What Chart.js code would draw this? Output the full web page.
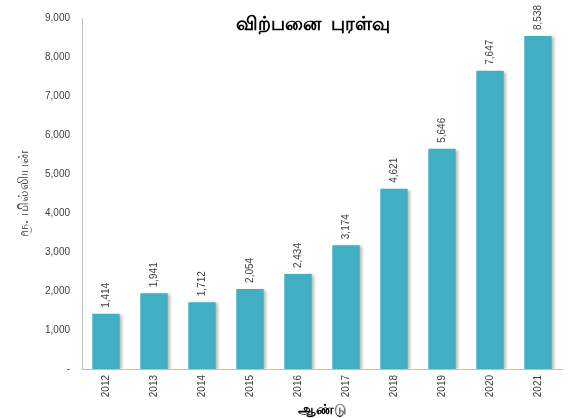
<!DOCTYPE html>
<html>
<head>
<meta charset="utf-8">
<script src="https://cdn.jsdelivr.net/npm/chart.js@4"></script>
<style>
  html, body { margin: 0; padding: 0; background: #fff; }
  #wrap { width: 572px; height: 418px; }
</style>
</head>
<body>
<div id="wrap"><canvas id="chart"></canvas></div>
<script>
const years = ['2012', '2013', '2014', '2015', '2016', '2017', '2018', '2019', '2020', '2021'];
const sales = [1414, 1941, 1712, 2054, 2434, 3174, 4621, 5646, 7647, 8538];
const yTicks = [0, 1000, 2000, 3000, 4000, 5000, 6000, 7000, 8000, 9000];

const chartTitle = 'விற்பனை புரள்வு';
const yTitle = 'ரூ. மில்லியன்';
const xTitle = 'ஆண்டு';

const fmt = v => (v === 0 ? '-' : v.toLocaleString('en-US'));

// soft shadow behind the bars, like the spreadsheet original
const barShadow = {
  id: 'barShadow',
  beforeDatasetDraw(chart) {
    const ctx = chart.ctx;
    ctx.save();
    ctx.shadowColor = 'rgba(0,0,0,0.28)';
    ctx.shadowBlur = 3;
    ctx.shadowOffsetX = 2;
    ctx.shadowOffsetY = 1;
  },
  afterDatasetDraw(chart) {
    chart.ctx.restore();
  },
};

// vertical value labels above each bar
const valueLabels = {
  id: 'valueLabels',
  afterDatasetsDraw(chart) {
    const ctx = chart.ctx;
    const meta = chart.getDatasetMeta(0);
    ctx.save();
    ctx.font = '10px "Liberation Sans", Arial, sans-serif';
    ctx.fillStyle = '#404040';
    ctx.textAlign = 'left';
    ctx.textBaseline = 'middle';
    meta.data.forEach((bar, i) => {
      ctx.save();
      ctx.translate(bar.x, bar.y - 6);
      ctx.rotate(-Math.PI / 2);
      ctx.fillText(fmt(sales[i]), 0, 0);
      ctx.restore();
    });
    ctx.restore();
  },
};

// title drawn inside the plot, overlapping the top of the area
const titleText = {
  id: 'titleText',
  afterDraw(chart) {
    const ctx = chart.ctx;
    ctx.save();
    ctx.font = 'bold 19px "Noto Sans", sans-serif';
    ctx.fillStyle = '#000';
    ctx.textAlign = 'center';
    ctx.textBaseline = 'middle';
    if ('wordSpacing' in ctx) ctx.wordSpacing = '5px';
    ctx.fillText(chartTitle, 313, 25);
    ctx.restore();
  },
};

new Chart(document.getElementById('chart'), {
  type: 'bar',
  data: {
    labels: years,
    datasets: [{
      data: sales,
      backgroundColor: '#41AFC2',
      borderWidth: 0,
      barPercentage: 0.57,
      categoryPercentage: 1,
    }],
  },
  options: {
    responsive: true,
    maintainAspectRatio: false,
    animation: false,
    layout: { padding: { top: 12, right: 10, left: 0, bottom: 0 } },
    plugins: {
      legend: { display: false },
      tooltip: { enabled: false },
    },
    scales: {
      x: {
        grid: { display: false, drawTicks: false },
        border: { color: '#BFBFBF', width: 1 },
        ticks: {
          color: '#404040',
          font: { family: '"Liberation Sans", Arial, sans-serif', size: 10 },
          minRotation: 90,
          maxRotation: 90,
          padding: 6,
        },
        title: {
          display: true,
          text: xTitle,
          color: '#000',
          font: { family: '"Noto Sans", sans-serif', size: 14, weight: 'bold' },
          padding: { top: 0, bottom: 0 },
        },
        afterFit(scale) { scale.height = 49; },
      },
      y: {
        min: 0,
        max: 9000,
        afterBuildTicks(scale) { scale.ticks = yTicks.map(v => ({ value: v })); },
        grid: { display: false, drawTicks: false },
        border: { color: '#BFBFBF', width: 1 },
        ticks: {
          color: '#404040',
          font: { family: '"Liberation Sans", Arial, sans-serif', size: 10 },
          padding: 12,
          callback: v => fmt(v),
        },
        title: {
          display: true,
          text: yTitle,
          color: '#404040',
          font: { family: '"Noto Sans", sans-serif', size: 14 },
          padding: { top: 16, bottom: 0 },
        },
        afterFit(scale) { scale.width = 82; },
      },
    },
  },
  plugins: [barShadow, valueLabels, titleText],
});
</script>
</body>
</html>
